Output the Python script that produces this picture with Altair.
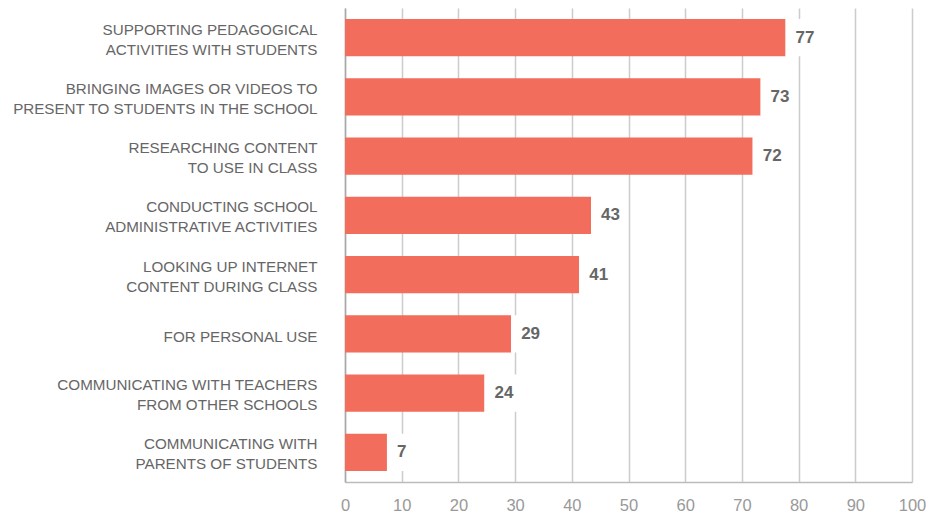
import altair as alt
import pandas as pd

categories = [
    "SUPPORTING PEDAGOGICAL|ACTIVITIES WITH STUDENTS",
    "BRINGING IMAGES OR VIDEOS TO|PRESENT TO STUDENTS IN THE SCHOOL",
    "RESEARCHING CONTENT|TO USE IN CLASS",
    "CONDUCTING SCHOOL|ADMINISTRATIVE ACTIVITIES",
    "LOOKING UP INTERNET|CONTENT DURING CLASS",
    "FOR PERSONAL USE",
    "COMMUNICATING WITH TEACHERS|FROM OTHER SCHOOLS",
    "COMMUNICATING WITH|PARENTS OF STUDENTS",
]
bar_lengths = [77.7, 73.3, 71.9, 43.4, 41.3, 29.3, 24.6, 7.4]
label_values = [77, 73, 72, 43, 41, 29, 24, 7]
x_ticks = [0, 10, 20, 30, 40, 50, 60, 70, 80, 90, 100]

df = pd.DataFrame({"cat": categories, "val": bar_lengths, "lab": label_values})

FONT = "Liberation Sans"
BAR = "#F26D5B"

y_enc = alt.Y(
    "cat:N",
    sort=categories,
    scale=alt.Scale(paddingInner=0.37, paddingOuter=0.185),
    axis=alt.Axis(
        title=None,
        labelExpr="split(datum.label, '|')",
        labelFont=FONT,
        labelFontSize=15.2,
        labelColor="#666666",
        labelLineHeight=20,
        labelPadding=28,
        labelOffset=alt.ExprRef("indexof(datum.value, '|') >= 0 ? -8 : 3"),
        ticks=False,
        domainColor="#a8a8a8",
        domainWidth=1.5,
        grid=False,
        labelLimit=400,
    ),
)

x_scale = alt.Scale(domain=[0, 100], nice=False)

bars = alt.Chart(df).mark_bar(color=BAR).encode(
    x=alt.X(
        "val:Q",
        scale=x_scale,
        axis=alt.Axis(
            title=None,
            values=x_ticks,
            grid=True,
            gridColor="#cccccc",
            gridWidth=1.5,
            ticks=False,
            domainColor="#bbbbbb",
            domainWidth=1.5,
            labelFont=FONT,
            labelFontSize=16.5,
            labelColor="#999999",
            labelPadding=15,
            labelFlush=False,
            labelOverlap=False,
        ),
    ),
    y=y_enc,
)

boxes = alt.Chart(df).transform_calculate(
    x2="datum.val + 6.5"
).mark_bar(color="white").encode(
    x=alt.X("val:Q", scale=x_scale),
    x2="x2:Q",
    y=alt.Y("cat:N", sort=categories),
)

labels = alt.Chart(df).mark_text(
    align="left", baseline="middle", dx=10, font=FONT, fontSize=17,
    fontWeight="bold", color="#666666"
).encode(
    x=alt.X("val:Q", scale=x_scale),
    y=alt.Y("cat:N", sort=categories),
    text="lab:Q",
)

chart = alt.layer(bars, boxes, labels).properties(
    width=567,
    height=474,
    autosize=alt.AutoSizeParams(type="none"),
    padding={"left": 337, "top": 0, "right": 14, "bottom": 32},
).configure_view(stroke=None)

chart.save("out.html", embed_options={"renderer": "svg", "actions": False})
